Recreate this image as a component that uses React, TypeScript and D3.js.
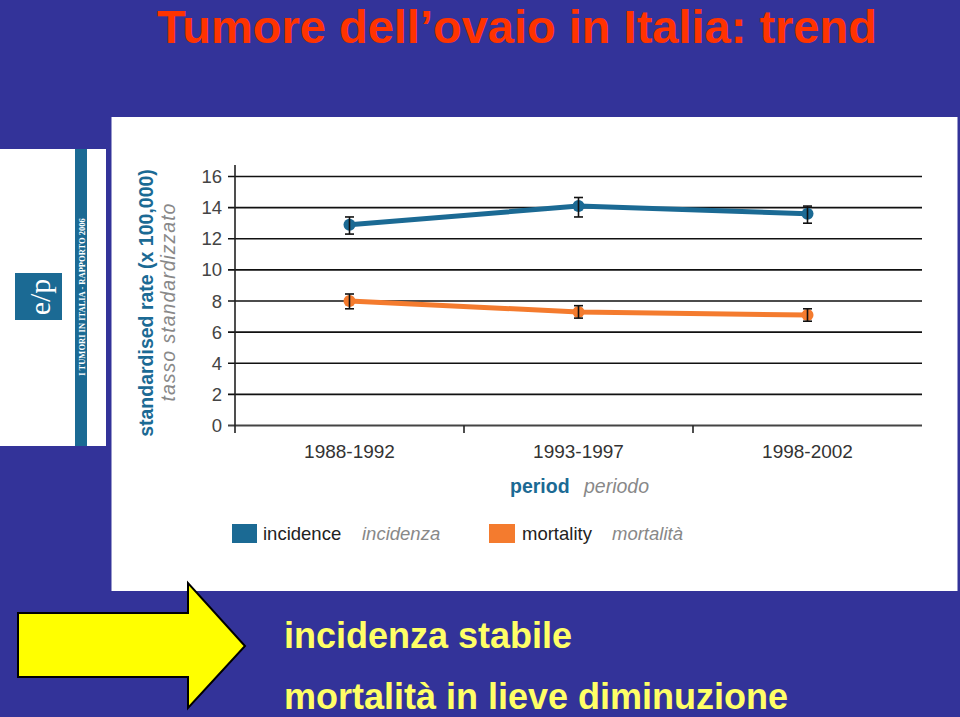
import React from "react";
import * as d3 from "d3";

const periods = ["1988-1992", "1993-1997", "1998-2002"];
const incidence = [12.9, 14.1, 13.6];
const incidenceLow = [12.3, 13.4, 13.0];
const incidenceHigh = [13.4, 14.65, 14.1];
const mortality = [8.0, 7.3, 7.1];
const mortalityLow = [7.5, 6.9, 6.7];
const mortalityHigh = [8.45, 7.7, 7.5];
const yTicks = [0, 2, 4, 6, 8, 10, 12, 14, 16];

const BG = "#333399";
const TEAL = "#1b6a94";
const ORANGE = "#f47b2e";
const FONT = "Liberation Sans, Arial, Helvetica, sans-serif";

export default function App() {
  const W = 960, H = 717;
  const x = d3.scaleBand<string>().domain(periods).range([235, 922]);
  const y = d3.scaleLinear().domain([0, 16]).range([425.5, 176.5]);
  const cx = (p: string) => (x(p) as number) + x.bandwidth() / 2;
  const line = d3.line<number>().x((_, i) => cx(periods[i])).y((v) => y(v));

  const series = [
    { vals: incidence, lo: incidenceLow, hi: incidenceHigh, color: TEAL },
    { vals: mortality, lo: mortalityLow, hi: mortalityHigh, color: ORANGE },
  ];

  const arrow = "M18,613 L188,613 L188,583 L245,646 L188,708 L188,677 L18,677 Z";

  return (
    <svg width={W} height={H} style={{ position: "absolute", left: 0, top: 0, display: "block" }} fontFamily={FONT}>
      <rect x={0} y={0} width={W} height={H} fill={BG} />
      <text x={157} y={43} fontSize={47} fontWeight="bold" fill="#ff3300">
        Tumore dell’ovaio in Italia: trend
      </text>

      {/* left book cover */}
      <rect x={0} y={149} width={106} height={297} fill="#ffffff" />
      <rect x={75} y={149} width={12} height={297} fill={TEAL} />
      <text
        transform="translate(84.5,297) rotate(-90)"
        textAnchor="middle"
        fontSize={8.5}
        fontWeight="bold"
        fontFamily="Liberation Serif, Times New Roman, serif"
        fill="#ffffff"
      >
        I TUMORI IN ITALIA - RAPPORTO 2006
      </text>
      <rect x={15} y={273} width={47} height={47} fill={TEAL} />
      <text
        transform="translate(50,297) rotate(-90)"
        textAnchor="middle"
        fontSize={30}
        fontFamily="Liberation Serif, Times New Roman, serif"
        fill="#ffffff"
      >
        e/p
      </text>

      {/* chart panel */}
      <rect x={111.5} y={117} width={846} height={474} fill="#ffffff" />

      {/* gridlines */}
      {yTicks.map((t) => (
        <g key={t}>
          <line x1={228} x2={922} y1={y(t)} y2={y(t)} stroke={t === 0 ? "#444" : "#111"} strokeWidth={t === 0 ? 2 : 1.6} />
          <text x={222} y={y(t) + 6.5} textAnchor="end" fontSize={18.5} fill="#444">
            {t}
          </text>
        </g>
      ))}
      <line x1={235} x2={235} y1={165} y2={433} stroke="#222" strokeWidth={1.6} />
      {periods.slice(1).map((p) => (
        <line key={p} x1={x(p) as number} x2={x(p) as number} y1={425.5} y2={433} stroke="#222" strokeWidth={1.6} />
      ))}
      {periods.map((p) => (
        <text key={p} x={cx(p)} y={458} textAnchor="middle" fontSize={19} fill="#333">
          {p}
        </text>
      ))}

      {/* axis titles */}
      <text x={510} y={493} fontSize={19.5} fontWeight="bold" fill={TEAL}>
        period
      </text>
      <text x={584} y={493} fontSize={19.5} fontStyle="italic" fill="#888">
        periodo
      </text>
      <text transform="translate(153,303) rotate(-90)" textAnchor="middle" fontSize={19.5} fontWeight="bold" fill={TEAL}>
        standardised rate (x 100,000)
      </text>
      <text
        transform="translate(175,302) rotate(-90)"
        textAnchor="middle"
        fontSize={19.5}
        fontStyle="italic"
        letterSpacing={1}
        fill="#888"
      >
        tasso standardizzato
      </text>

      {/* series */}
      {series.map((s, si) => (
        <g key={si}>
          <path d={line(s.vals) as string} fill="none" stroke={s.color} strokeWidth={5} strokeLinejoin="round" />
          {s.vals.map((v, i) => (
            <circle key={i} cx={cx(periods[i])} cy={y(v)} r={6} fill={s.color} />
          ))}
          {s.vals.map((_, i) => {
            const px = cx(periods[i]);
            return (
              <g key={"e" + i} stroke="#111" strokeWidth={1.6}>
                <line x1={px} x2={px} y1={y(s.hi[i])} y2={y(s.lo[i])} />
                <line x1={px - 4.5} x2={px + 4.5} y1={y(s.hi[i])} y2={y(s.hi[i])} />
                <line x1={px - 4.5} x2={px + 4.5} y1={y(s.lo[i])} y2={y(s.lo[i])} />
              </g>
            );
          })}
        </g>
      ))}

      {/* legend */}
      <rect x={232} y={524} width={25} height={19} fill={TEAL} />
      <text x={263} y={540} fontSize={18.5} fill="#222">incidence</text>
      <text x={362} y={540} fontSize={18.5} fontStyle="italic" fill="#888">incidenza</text>
      <rect x={489} y={524} width={26} height={19} fill={ORANGE} />
      <text x={522} y={540} fontSize={18.5} fill="#222">mortality</text>
      <text x={612} y={540} fontSize={18.5} fontStyle="italic" fill="#888">mortalità</text>

      {/* arrow and notes */}
      <path d={arrow} fill="#ffff00" stroke="#000" strokeWidth={2} strokeLinejoin="miter" />
      <text x={284} y={648} fontSize={36} fontWeight="bold" fill="#ffff66">
        incidenza stabile
      </text>
      <text x={284} y={709} fontSize={36} fontWeight="bold" fill="#ffff66">
        mortalità in lieve diminuzione
      </text>
    </svg>
  );
}
